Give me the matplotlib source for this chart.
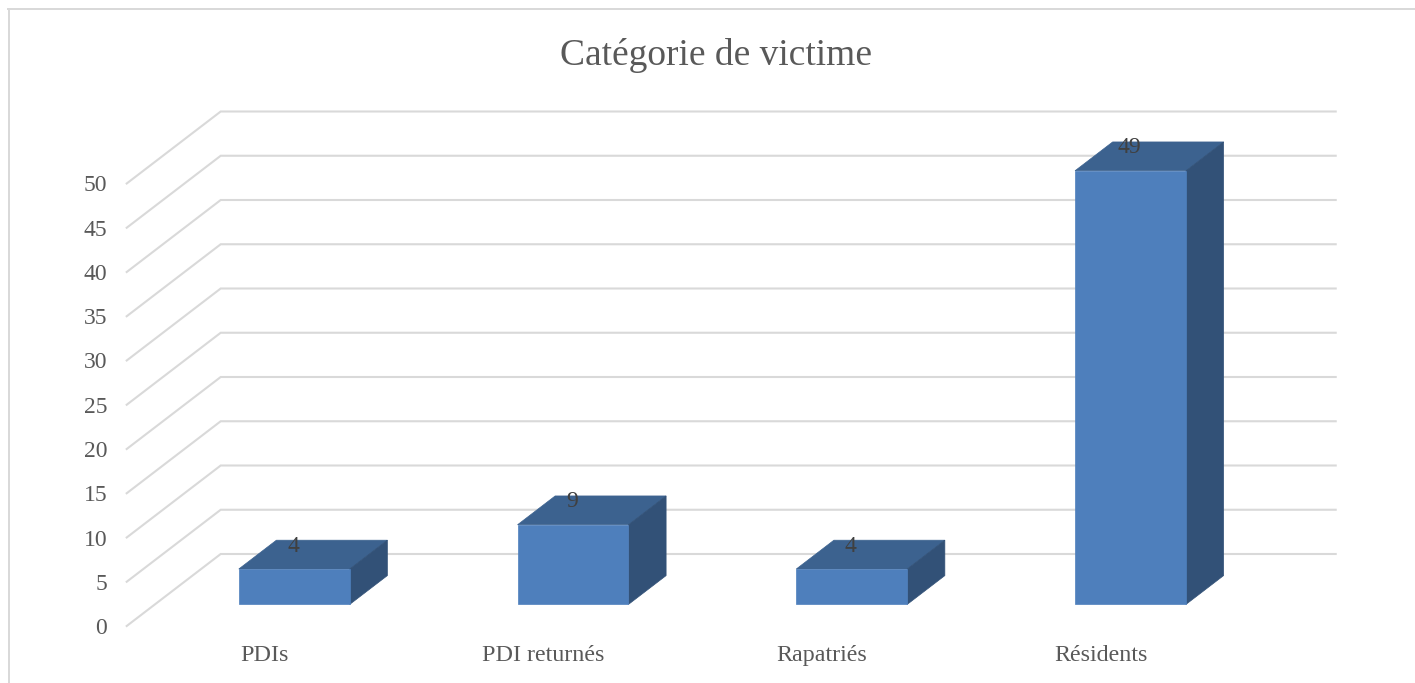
import matplotlib
matplotlib.use("Agg")
import matplotlib.pyplot as plt
from matplotlib.lines import Line2D
from matplotlib.patches import Polygon
from matplotlib.transforms import ScaledTranslation

categories = ["PDIs", "PDI returnés", "Rapatriés", "Résidents"]
values = [4, 9, 4, 49]
y_ticks = [0, 5, 10, 15, 20, 25, 30, 35, 40, 45, 50]
title = "Catégorie de victime"

W, H = 1415, 683
plt.rcParams["font.family"] = ["Liberation Serif", "DejaVu Serif"]
fig = plt.figure(figsize=(W / 100, H / 100), dpi=100)
fig.patch.set_facecolor("white")

# Axes = front plane of the 3D box
L, R, B, T = 126.7, 1241.7, 626, 183.5
ax = fig.add_axes([L / W, 1 - B / H, (R - L) / W, (B - T) / H])
ax.set_xlim(-0.5, 3.5)
ax.set_ylim(0, 50)
ax.patch.set_alpha(0)
for s in ax.spines.values():
    s.set_visible(False)

ux = (R - L) / 4      # px per category
uy = (B - T) / 50     # px per value unit
depth_x = 94 / ux
depth_y = 72 / uy


def proj(x, v, d):
    return (x + d * depth_x, v + d * depth_y)


GRID = "#d9d9d9"
for v in y_ticks:
    p0 = proj(-0.5, v, 0)
    p1 = proj(-0.5, v, 1)
    p2 = proj(3.5, v, 1)
    ax.plot([p0[0], p1[0], p2[0]], [p0[1], p1[1], p2[1]], color=GRID, lw=1.5,
            clip_on=False, zorder=1, solid_joinstyle="miter")

bar_w = 0.398
d0, d1 = 0.30, 0.70
FRONT, TOP, SIDE = "#4e7fbc", "#3c628f", "#325177"
for i, val in enumerate(values):
    xa, xb = i - bar_w / 2, i + bar_w / 2
    fa = proj(xa, 0, d0); fb = proj(xb, 0, d0)
    fta = proj(xa, val, d0); ftb = proj(xb, val, d0)
    bta = proj(xa, val, d1); btb = proj(xb, val, d1)
    bb = proj(xb, 0, d1)
    ax.add_patch(Polygon([fta, ftb, btb, bta], fc=TOP, ec=TOP, lw=0.5, clip_on=False, zorder=3))
    ax.add_patch(Polygon([fb, bb, btb, ftb], fc=SIDE, ec=SIDE, lw=0.5, clip_on=False, zorder=3))
    ax.add_patch(Polygon([fa, fb, ftb, fta], fc=FRONT, ec=FRONT, lw=0.5, clip_on=False, zorder=4))
    cx = proj(i, val, d0)
    ax.annotate(str(val), xy=cx, xytext=(-1 / 100 * 72, 23 / 100 * 72), textcoords="offset points",
                ha="center", va="center", fontsize=17, color="#404040", zorder=5,
                annotation_clip=False)

ax.set_xticks(range(len(categories)), categories)
ax.set_yticks(y_ticks, [str(v) for v in y_ticks])
ax.tick_params(axis="x", length=0, pad=13.5, labelsize=17.3, labelcolor="#595959")
ax.tick_params(axis="y", length=0, pad=14, labelsize=17, labelcolor="#595959")
shift = ScaledTranslation(-1.5 / 100, 0, fig.dpi_scale_trans)
for lab in ax.get_xticklabels():
    lab.set_transform(lab.get_transform() + shift)
ax.set_title(title, fontsize=27, color="#595959", x=(716 - L) / (R - L), y=(B - 64) / (B - T),
             va="center")

# Chart frame: top and left edges only
fig.add_artist(Line2D([8 / W, 1], [1 - 9 / H, 1 - 9 / H], transform=fig.transFigure, color=GRID, lw=1.44))
fig.add_artist(Line2D([9 / W, 9 / W], [0, 1 - 9 / H], transform=fig.transFigure, color=GRID, lw=1.44))

fig.savefig("out.png", dpi=100)
